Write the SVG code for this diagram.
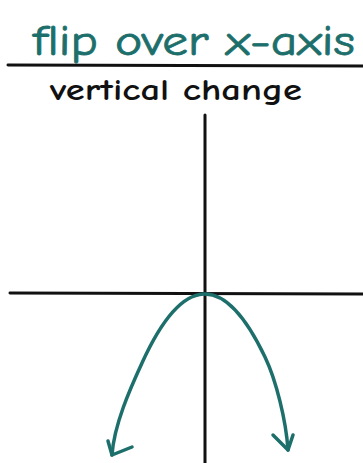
<svg xmlns="http://www.w3.org/2000/svg" width="363" height="463" viewBox="0 0 363 463">
<style>
.ax{stroke:#111;stroke-width:3;fill:none;stroke-linecap:round}
.cv{stroke:#1d6f6c;stroke-width:3.5;fill:none;stroke-linecap:round;stroke-linejoin:round}
.t{font-family:"Comic Neue","Liberation Sans",sans-serif}
</style>
<rect width="363" height="463" fill="#fff"/>
<g id="title"><text class="t" x="33" y="55" font-size="42" fill="#1d6f6c" stroke="#1d6f6c" stroke-width="0.8" textLength="322" lengthAdjust="spacingAndGlyphs">flip over x-axis</text></g>
<g id="rule"><line class="ax" x1="8" y1="65" x2="363" y2="66"/></g>
<g id="subtitle"><text class="t" x="50" y="100" font-size="30" font-weight="bold" fill="#111" textLength="252" lengthAdjust="spacingAndGlyphs">vertical change</text></g>
<g id="axes">
<line class="ax" x1="205" y1="115" x2="205" y2="463"/>
<line class="ax" x1="10" y1="293" x2="363" y2="294"/>
</g>
<g id="curve">
<path class="cv" d="M112,455 C114,425 130,389 142,363 Q203.5,228 265,357 C276,380 286,420 288,450"/>
<path class="cv" d="M108,441 L112,455 L132,447"/>
<path class="cv" d="M273,435 L288,450 L293,435"/>
</g>
</svg>
